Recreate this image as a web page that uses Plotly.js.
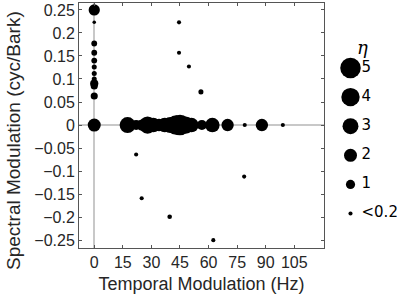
<!DOCTYPE html>
<html>
<head>
<meta charset="utf-8">
<script src="https://cdn.plot.ly/plotly-3.0.1.min.js"></script>
<style>html,body{margin:0;padding:0;background:#fff;}#chart{width:397px;height:299px;}</style>
</head>
<body>
<div id="chart"></div>
<script>
// ---- data ----
var tempMod = [0, 0, 0, 0, 0, 0, 0, 0, 0, 0, 0, 0,
  17.5, 22, 25, 28, 31, 34, 37, 40, 43, 45, 48, 51, 56.5, 62, 70, 79, 88, 99,
  44.5, 44.5, 49.7, 56, 22, 24.9, 39.6, 78.7, 62.5];
var specMod = [0.25, 0.223, 0.177, 0.157, 0.14, 0.126, 0.112, 0.1, 0.09, 0.085, 0.063, 0,
  0, 0, 0, 0, 0, 0, 0, 0, 0, 0, 0, 0, 0, 0, 0, 0, 0, 0,
  0.223, 0.157, 0.127, 0.072, -0.064, -0.159, -0.199, -0.112, -0.25];
var eta = [1.5, 0.15, 0.4, 0.4, 0.4, 0.3, 0.3, 0.3, 0.8, 0.6, 0.6, 2,
  3, 1.2, 1.5, 3.5, 2.5, 1.8, 2.5, 3, 4.5, 5, 3.5, 2.5, 1.2, 2.5, 1.8, 0.2, 1.8, 0.2,
  0.2, 0.2, 0.2, 0.3, 0.2, 0.2, 0.25, 0.2, 0.2];
var xTicks = [0, 15, 30, 45, 60, 75, 90, 105];
var yTicks = [-0.25, -0.2, -0.15, -0.1, -0.05, 0, 0.05, 0.1, 0.15, 0.2, 0.25];
var yTickText = ['\u22120.25', '\u22120.2', '\u22120.15', '\u22120.1', '\u22120.05', '0', '0.05', '0.1', '0.15', '0.2', '0.25'];
var legendEta = [5, 4, 3, 2, 1, 0.2];
var legendLabels = ['5', '4', '3', '2', '1', '<0.2'];

// ---- layout helpers ----
var W = 397, H = 299;
var L = 79, R = 0, T = 3, B = 51;
var plotW = W - L - R;
var mainRight = 324;
var mainFrac = (mainRight - L) / plotW;
var legLeft = 330;
var legFrac = (legLeft - L) / plotW;
var sizeRef = 1 / (6.5 * 6.5);
var legIdx = legendEta.map(function (_, i) { return i; });
var legX = legendEta.map(function () { return 20.5; });
var legTextX = legendEta.map(function () { return 31.5; });
var axisGrey = '#555555';
var textCol = '#262626';
var font = 'Liberation Sans, Arial, sans-serif';

var traces = [
  {
    type: 'scatter', mode: 'markers', x: tempMod, y: specMod,
    marker: { size: eta, sizemode: 'area', sizeref: sizeRef, color: '#000', opacity: 1, line: { width: 0 } },
    cliponaxis: false, hoverinfo: 'skip', showlegend: false
  },
  {
    type: 'scatter', mode: 'markers', x: legX, y: legIdx, xaxis: 'x2', yaxis: 'y2',
    marker: { size: legendEta, sizemode: 'area', sizeref: sizeRef, color: '#000', opacity: 1, line: { width: 0 } },
    cliponaxis: false, hoverinfo: 'skip', showlegend: false
  },
  {
    type: 'scatter', mode: 'text', x: legTextX, y: legIdx, xaxis: 'x2', yaxis: 'y2',
    text: legendLabels, textposition: 'middle right',
    textfont: { family: 'DejaVu Sans, sans-serif', size: 15, color: '#000' },
    cliponaxis: false, hoverinfo: 'skip', showlegend: false
  }
];

var pxPerIdx = 29.1;
var spanIdx = (H - T - B) / pxPerIdx;
var topIdx = -(68 - T) / pxPerIdx;

var layout = {
  width: W, height: H,
  margin: { l: L, r: R, t: T, b: B, pad: 0 },
  paper_bgcolor: '#fff', plot_bgcolor: '#fff',
  font: { family: font, size: 16, color: textCol },
  showlegend: false,
  xaxis: {
    domain: [0, mainFrac], range: [-8, 120.6],
    tickvals: xTicks, ticktext: xTicks.map(String),
    ticks: 'inside', ticklen: 3, tickcolor: axisGrey, tickwidth: 1,
    showline: true, linecolor: axisGrey, linewidth: 1, mirror: 'ticks',
    showgrid: false, zeroline: true, zerolinecolor: '#c8c8c8', zerolinewidth: 1.5,
    tickfont: { size: 16, color: textCol },
    title: { text: 'Temporal Modulation (Hz)', font: { size: 18, color: textCol }, standoff: 7 }
  },
  yaxis: {
    domain: [0, 1], range: [-0.267, 0.265],
    tickvals: yTicks, ticktext: yTickText,
    ticks: 'inside', ticklen: 3, tickcolor: axisGrey, tickwidth: 1,
    showline: true, linecolor: axisGrey, linewidth: 1, mirror: 'ticks',
    showgrid: false, zeroline: true, zerolinecolor: '#c8c8c8', zerolinewidth: 1.5,
    tickfont: { size: 16, color: textCol }
  },
  xaxis2: {
    domain: [legFrac, 1], range: [0, W - legLeft], anchor: 'y2',
    visible: false, fixedrange: true
  },
  yaxis2: {
    domain: [0, 1], range: [topIdx + spanIdx, topIdx], anchor: 'x2',
    visible: false, fixedrange: true
  },
  annotations: [
    {
      xref: 'x2', yref: 'y2', x: 32, y: (47 - 68) / pxPerIdx,
      text: '<i>\u03b7</i>', showarrow: false, xanchor: 'center', yanchor: 'middle',
      font: { family: 'DejaVu Serif, serif', size: 18, color: '#000' }
    },
    {
      xref: 'paper', yref: 'paper',
      x: (13 - L) / plotW, y: (H - B - 141) / (H - T - B),
      text: 'Spectral Modulation (cyc/Bark)', textangle: -90, showarrow: false,
      xanchor: 'center', yanchor: 'middle',
      font: { family: font, size: 19, color: textCol }
    }
  ]
};

Plotly.newPlot('chart', traces, layout, { staticPlot: true, displayModeBar: false });
</script>
</body>
</html>
